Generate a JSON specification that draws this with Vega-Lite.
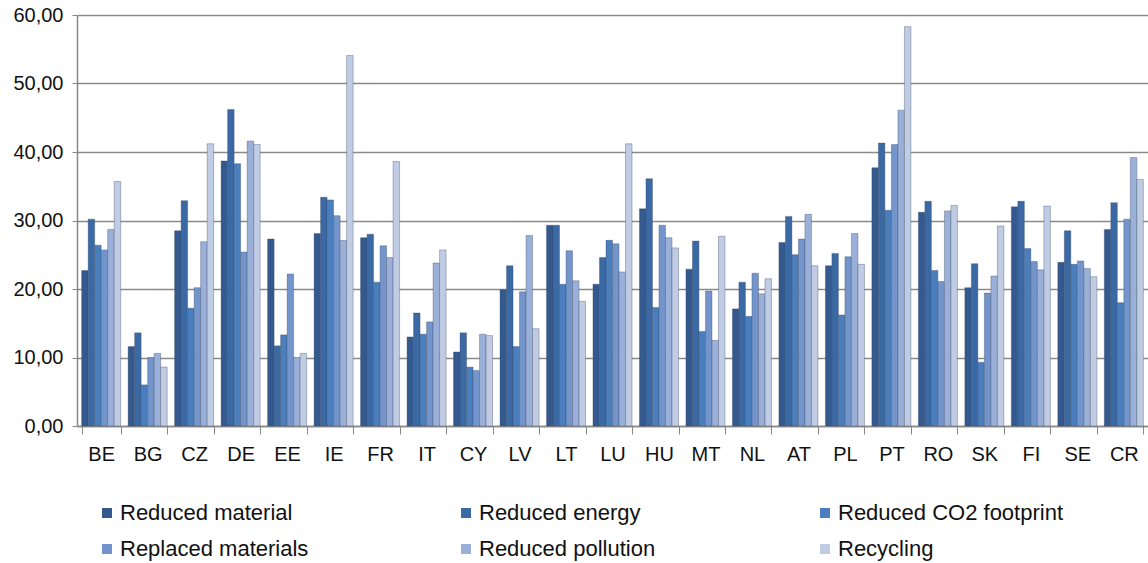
{
  "$schema": "https://vega.github.io/schema/vega-lite/v6.json",
  "width": 1071,
  "height": 411,
  "autosize": {"type": "none"},
  "padding": {"left": 77, "top": 15, "right": 0, "bottom": 137},
  "background": "white",
  "config": {
    "font": "Liberation Sans",
    "view": {"stroke": null}
  },
  "data": {
    "values": [
      {"country": "BE", "series": "Reduced material", "value": 22.7},
      {"country": "BE", "series": "Reduced energy", "value": 30.2},
      {"country": "BE", "series": "Reduced CO2 footprint", "value": 26.4},
      {"country": "BE", "series": "Replaced materials", "value": 25.7},
      {"country": "BE", "series": "Reduced pollution", "value": 28.7},
      {"country": "BE", "series": "Recycling", "value": 35.7},
      {"country": "BG", "series": "Reduced material", "value": 11.6},
      {"country": "BG", "series": "Reduced energy", "value": 13.6},
      {"country": "BG", "series": "Reduced CO2 footprint", "value": 6.0},
      {"country": "BG", "series": "Replaced materials", "value": 10.0},
      {"country": "BG", "series": "Reduced pollution", "value": 10.6},
      {"country": "BG", "series": "Recycling", "value": 8.6},
      {"country": "CZ", "series": "Reduced material", "value": 28.5},
      {"country": "CZ", "series": "Reduced energy", "value": 32.9},
      {"country": "CZ", "series": "Reduced CO2 footprint", "value": 17.2},
      {"country": "CZ", "series": "Replaced materials", "value": 20.2},
      {"country": "CZ", "series": "Reduced pollution", "value": 26.9},
      {"country": "CZ", "series": "Recycling", "value": 41.2},
      {"country": "DE", "series": "Reduced material", "value": 38.7},
      {"country": "DE", "series": "Reduced energy", "value": 46.2},
      {"country": "DE", "series": "Reduced CO2 footprint", "value": 38.3},
      {"country": "DE", "series": "Replaced materials", "value": 25.4},
      {"country": "DE", "series": "Reduced pollution", "value": 41.6},
      {"country": "DE", "series": "Recycling", "value": 41.1},
      {"country": "EE", "series": "Reduced material", "value": 27.3},
      {"country": "EE", "series": "Reduced energy", "value": 11.7},
      {"country": "EE", "series": "Reduced CO2 footprint", "value": 13.3},
      {"country": "EE", "series": "Replaced materials", "value": 22.2},
      {"country": "EE", "series": "Reduced pollution", "value": 10.0},
      {"country": "EE", "series": "Recycling", "value": 10.6},
      {"country": "IE", "series": "Reduced material", "value": 28.1},
      {"country": "IE", "series": "Reduced energy", "value": 33.4},
      {"country": "IE", "series": "Reduced CO2 footprint", "value": 33.0},
      {"country": "IE", "series": "Replaced materials", "value": 30.7},
      {"country": "IE", "series": "Reduced pollution", "value": 27.1},
      {"country": "IE", "series": "Recycling", "value": 54.1},
      {"country": "FR", "series": "Reduced material", "value": 27.5},
      {"country": "FR", "series": "Reduced energy", "value": 28.0},
      {"country": "FR", "series": "Reduced CO2 footprint", "value": 21.0},
      {"country": "FR", "series": "Replaced materials", "value": 26.3},
      {"country": "FR", "series": "Reduced pollution", "value": 24.6},
      {"country": "FR", "series": "Recycling", "value": 38.6},
      {"country": "IT", "series": "Reduced material", "value": 13.0},
      {"country": "IT", "series": "Reduced energy", "value": 16.5},
      {"country": "IT", "series": "Reduced CO2 footprint", "value": 13.4},
      {"country": "IT", "series": "Replaced materials", "value": 15.2},
      {"country": "IT", "series": "Reduced pollution", "value": 23.8},
      {"country": "IT", "series": "Recycling", "value": 25.7},
      {"country": "CY", "series": "Reduced material", "value": 10.8},
      {"country": "CY", "series": "Reduced energy", "value": 13.6},
      {"country": "CY", "series": "Reduced CO2 footprint", "value": 8.6},
      {"country": "CY", "series": "Replaced materials", "value": 8.1},
      {"country": "CY", "series": "Reduced pollution", "value": 13.4},
      {"country": "CY", "series": "Recycling", "value": 13.2},
      {"country": "LV", "series": "Reduced material", "value": 19.9},
      {"country": "LV", "series": "Reduced energy", "value": 23.4},
      {"country": "LV", "series": "Reduced CO2 footprint", "value": 11.6},
      {"country": "LV", "series": "Replaced materials", "value": 19.6},
      {"country": "LV", "series": "Reduced pollution", "value": 27.8},
      {"country": "LV", "series": "Recycling", "value": 14.2},
      {"country": "LT", "series": "Reduced material", "value": 29.3},
      {"country": "LT", "series": "Reduced energy", "value": 29.3},
      {"country": "LT", "series": "Reduced CO2 footprint", "value": 20.7},
      {"country": "LT", "series": "Replaced materials", "value": 25.6},
      {"country": "LT", "series": "Reduced pollution", "value": 21.2},
      {"country": "LT", "series": "Recycling", "value": 18.2},
      {"country": "LU", "series": "Reduced material", "value": 20.7},
      {"country": "LU", "series": "Reduced energy", "value": 24.6},
      {"country": "LU", "series": "Reduced CO2 footprint", "value": 27.1},
      {"country": "LU", "series": "Replaced materials", "value": 26.6},
      {"country": "LU", "series": "Reduced pollution", "value": 22.5},
      {"country": "LU", "series": "Recycling", "value": 41.2},
      {"country": "HU", "series": "Reduced material", "value": 31.7},
      {"country": "HU", "series": "Reduced energy", "value": 36.1},
      {"country": "HU", "series": "Reduced CO2 footprint", "value": 17.3},
      {"country": "HU", "series": "Replaced materials", "value": 29.3},
      {"country": "HU", "series": "Reduced pollution", "value": 27.5},
      {"country": "HU", "series": "Recycling", "value": 26.0},
      {"country": "MT", "series": "Reduced material", "value": 22.9},
      {"country": "MT", "series": "Reduced energy", "value": 27.0},
      {"country": "MT", "series": "Reduced CO2 footprint", "value": 13.8},
      {"country": "MT", "series": "Replaced materials", "value": 19.7},
      {"country": "MT", "series": "Reduced pollution", "value": 12.5},
      {"country": "MT", "series": "Recycling", "value": 27.7},
      {"country": "NL", "series": "Reduced material", "value": 17.1},
      {"country": "NL", "series": "Reduced energy", "value": 21.0},
      {"country": "NL", "series": "Reduced CO2 footprint", "value": 16.0},
      {"country": "NL", "series": "Replaced materials", "value": 22.3},
      {"country": "NL", "series": "Reduced pollution", "value": 19.3},
      {"country": "NL", "series": "Recycling", "value": 21.5},
      {"country": "AT", "series": "Reduced material", "value": 26.8},
      {"country": "AT", "series": "Reduced energy", "value": 30.6},
      {"country": "AT", "series": "Reduced CO2 footprint", "value": 25.0},
      {"country": "AT", "series": "Replaced materials", "value": 27.3},
      {"country": "AT", "series": "Reduced pollution", "value": 30.9},
      {"country": "AT", "series": "Recycling", "value": 23.4},
      {"country": "PL", "series": "Reduced material", "value": 23.4},
      {"country": "PL", "series": "Reduced energy", "value": 25.2},
      {"country": "PL", "series": "Reduced CO2 footprint", "value": 16.2},
      {"country": "PL", "series": "Replaced materials", "value": 24.7},
      {"country": "PL", "series": "Reduced pollution", "value": 28.1},
      {"country": "PL", "series": "Recycling", "value": 23.6},
      {"country": "PT", "series": "Reduced material", "value": 37.7},
      {"country": "PT", "series": "Reduced energy", "value": 41.3},
      {"country": "PT", "series": "Reduced CO2 footprint", "value": 31.5},
      {"country": "PT", "series": "Replaced materials", "value": 41.1},
      {"country": "PT", "series": "Reduced pollution", "value": 46.1},
      {"country": "PT", "series": "Recycling", "value": 58.3},
      {"country": "RO", "series": "Reduced material", "value": 31.2},
      {"country": "RO", "series": "Reduced energy", "value": 32.8},
      {"country": "RO", "series": "Reduced CO2 footprint", "value": 22.7},
      {"country": "RO", "series": "Replaced materials", "value": 21.1},
      {"country": "RO", "series": "Reduced pollution", "value": 31.4},
      {"country": "RO", "series": "Recycling", "value": 32.2},
      {"country": "SK", "series": "Reduced material", "value": 20.2},
      {"country": "SK", "series": "Reduced energy", "value": 23.7},
      {"country": "SK", "series": "Reduced CO2 footprint", "value": 9.3},
      {"country": "SK", "series": "Replaced materials", "value": 19.4},
      {"country": "SK", "series": "Reduced pollution", "value": 21.9},
      {"country": "SK", "series": "Recycling", "value": 29.2},
      {"country": "FI", "series": "Reduced material", "value": 32.0},
      {"country": "FI", "series": "Reduced energy", "value": 32.8},
      {"country": "FI", "series": "Reduced CO2 footprint", "value": 25.9},
      {"country": "FI", "series": "Replaced materials", "value": 24.0},
      {"country": "FI", "series": "Reduced pollution", "value": 22.8},
      {"country": "FI", "series": "Recycling", "value": 32.1},
      {"country": "SE", "series": "Reduced material", "value": 23.9},
      {"country": "SE", "series": "Reduced energy", "value": 28.5},
      {"country": "SE", "series": "Reduced CO2 footprint", "value": 23.6},
      {"country": "SE", "series": "Replaced materials", "value": 24.1},
      {"country": "SE", "series": "Reduced pollution", "value": 23.0},
      {"country": "SE", "series": "Recycling", "value": 21.8},
      {"country": "CR", "series": "Reduced material", "value": 28.7},
      {"country": "CR", "series": "Reduced energy", "value": 32.6},
      {"country": "CR", "series": "Reduced CO2 footprint", "value": 18.0},
      {"country": "CR", "series": "Replaced materials", "value": 30.2},
      {"country": "CR", "series": "Reduced pollution", "value": 39.2},
      {"country": "CR", "series": "Recycling", "value": 36.0}
    ]
  },
  "mark": {"type": "bar", "stroke": "#3a4a66", "strokeWidth": 0.6, "strokeOpacity": 0.6},
  "encoding": {
    "x": {
      "field": "country",
      "type": "nominal",
      "sort": null,
      "scale": {"paddingInner": 0.16, "paddingOuter": 0.1},
      "axis": {
        "title": null,
        "labelAngle": 0,
        "labelFontSize": 20,
        "labelColor": "#111111",
        "labelPadding": 10,
        "tickBand": "extent",
        "tickSize": 8,
        "tickColor": "#888888",
        "domainColor": "#888888",
        "domainWidth": 1.5,
        "grid": false
      }
    },
    "xOffset": {
      "field": "series",
      "type": "nominal",
      "sort": ["Reduced material", "Reduced energy", "Reduced CO2 footprint", "Replaced materials", "Reduced pollution", "Recycling"]
    },
    "y": {
      "field": "value",
      "type": "quantitative",
      "scale": {"domain": [0, 60], "nice": false},
      "axis": {
        "title": null,
        "values": [0, 10, 20, 30, 40, 50, 60],
        "labelExpr": "replace(format(datum.value, '.2f'), '.', ',')",
        "labelFontSize": 20,
        "labelColor": "#111111",
        "labelPadding": 9,
        "tickSize": 5,
        "tickColor": "#888888",
        "domainColor": "#888888",
        "domainWidth": 1.5,
        "gridColor": "#8a8a8a",
        "gridWidth": 1.5
      }
    },
    "color": {
      "field": "series",
      "type": "nominal",
      "scale": {
        "domain": ["Reduced material", "Reduced energy", "Reduced CO2 footprint", "Replaced materials", "Reduced pollution", "Recycling"],
        "range": ["#33598e", "#3b69a4", "#4a7ebd", "#7395cc", "#9ab0d8", "#c0cbe4"]
      },
      "legend": {
        "title": null,
        "orient": "none",
        "legendX": 19,
        "legendY": 487,
        "direction": "horizontal",
        "columns": 3,
        "gridAlign": "all",
        "columnPadding": 109,
        "rowPadding": 14,
        "padding": 0,
        "symbolType": "square",
        "symbolSize": 100,
        "symbolStrokeWidth": 0,
        "labelFontSize": 22,
        "labelColor": "#111111",
        "labelOffset": 2,
        "labelLimit": 400
      }
    }
  }
}
